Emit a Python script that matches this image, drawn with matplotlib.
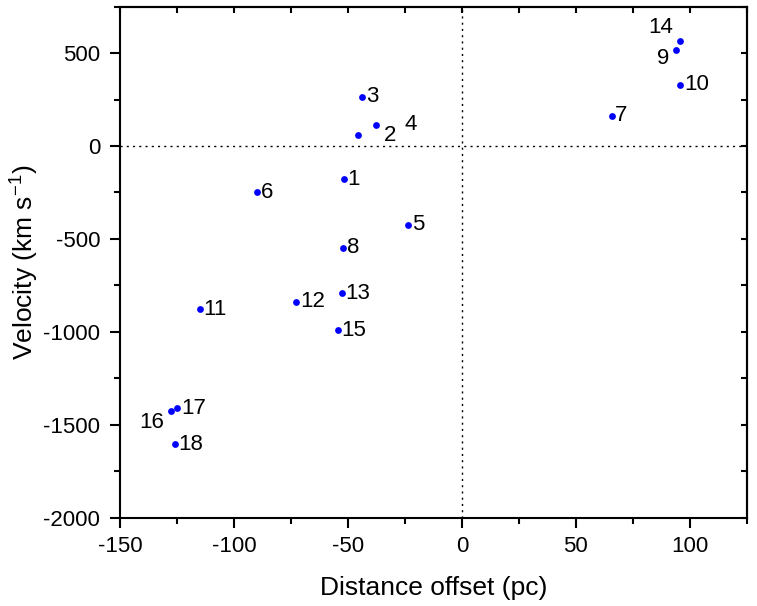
import matplotlib
matplotlib.use("Agg")
import matplotlib.pyplot as plt
from matplotlib.ticker import MultipleLocator

plt.rcParams["font.family"] = ["Liberation Sans", "DejaVu Sans"]
plt.rcParams["mathtext.fontset"] = "custom"
plt.rcParams["mathtext.rm"] = "Liberation Sans"
plt.rcParams["axes.unicode_minus"] = False

# Positions of the sources #

labels = ["1", "2", "3", "4", "5", "6", "7", "8", "9", "10",
          "11", "12", "13", "14", "15", "16", "17", "18"]
offset_pc = [-51.7, -45.8, -43.7, -37.9, -23.5, -90.0, 65.8, -52.1, 94.0, 95.9,
             -115.0, -72.7, -52.6, 95.9, -54.6, -127.9, -125.0, -125.9]
velocity = [-180, 59, 266, 114, -423, -250, 162, -548, 517, 330,
            -877, -838, -793, 564, -991, -1427, -1411, -1604]

# label placement: (dx, dy) in points and horizontal alignment
label_pos = {
    "2": ((19, 0), "left"),
    "4": ((21, 0), "left"),
    "9": ((-5, -6), "right"),
    "14": ((-5, 10), "right"),
    "16": ((-5, -8), "right"),
}


def main():
    fig = plt.figure(figsize=(7.57, 6.06), dpi=100)
    ax = fig.add_axes([0.159, 0.1457, 0.8274, 0.8433])

    ax.axhline(0, color="black", linestyle=(0, (1.5, 3)), linewidth=1, zorder=1)
    ax.axvline(0, color="black", linestyle=(0, (1.5, 3)), linewidth=1, zorder=1)

    ax.scatter(offset_pc, velocity, s=24, color="#0000ff", zorder=3, linewidths=0)

    for lab, x, y in zip(labels, offset_pc, velocity):
        (dx, dy), ha = label_pos.get(lab, ((2.5, 0), "left"))
        ax.annotate(lab, (x, y), xytext=(dx, dy), textcoords="offset points",
                    ha=ha, va="center", fontsize=16)

    ax.set_xlim(-150, 125)
    ax.set_ylim(-2000, 750)
    ax.xaxis.set_major_locator(MultipleLocator(50))
    ax.xaxis.set_minor_locator(MultipleLocator(25))
    ax.yaxis.set_major_locator(MultipleLocator(500))
    ax.yaxis.set_minor_locator(MultipleLocator(250))

    for side in ax.spines.values():
        side.set_linewidth(1.5)

    ax.tick_params(which="major", axis="both", direction="out", length=7.5, width=1.5,
                   labelsize=16)
    ax.tick_params(which="minor", axis="both", direction="out", length=4.5, width=1.5)
    ax.tick_params(axis="x", which="major", pad=6)
    ax.tick_params(axis="y", which="major", pad=7)

    # mirrored ticks on top and right, pointing in
    top = ax.secondary_xaxis("top")
    top.set_xticks([-150, -125, -100, -75, -50, -25, 0, 25, 50, 75, 100, 125])
    top.tick_params(direction="in", length=4.5, width=1.5, labeltop=False)
    right = ax.secondary_yaxis("right")
    right.set_yticks(list(range(-2000, 751, 250)))
    right.tick_params(direction="in", length=4.5, width=1.5, labelright=False)
    top.spines["top"].set_linewidth(1.5)
    right.spines["right"].set_linewidth(1.5)

    ax.set_xlabel("Distance offset (pc)", fontsize=19, labelpad=13)
    ax.set_ylabel("Velocity (km s$^{-1}$)", fontsize=19, labelpad=2)

    fig.savefig("out.png", dpi=100)


if __name__ == "__main__":
    main()
